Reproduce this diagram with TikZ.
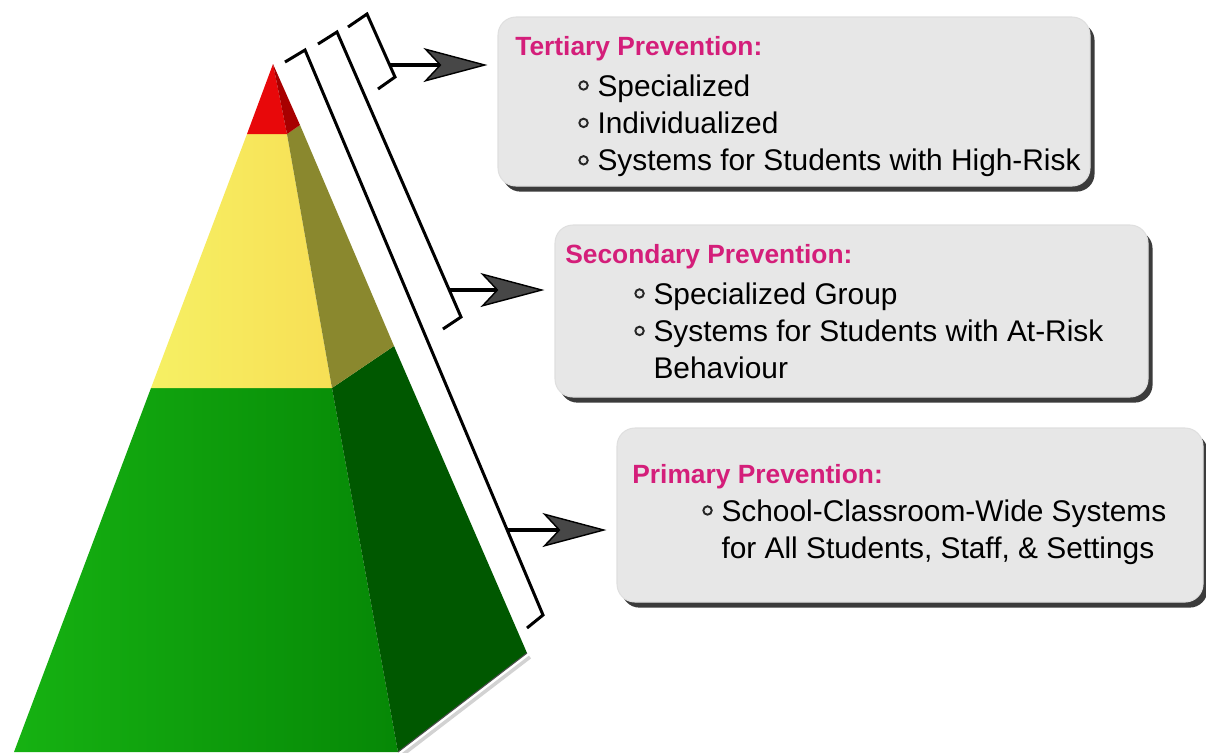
\documentclass[tikz,border=0pt]{standalone}
\usepackage{fontspec}
\setmainfont{Liberation Sans}
\usetikzlibrary{arrows.meta,shadows,fit}

\definecolor{titlepink}{RGB}{212,30,122}
\definecolor{boxgray}{RGB}{231,231,231}
\definecolor{topred}{RGB}{232,8,10}
\definecolor{topredside}{RGB}{168,0,0}
\definecolor{midyellow}{RGB}{246,240,100}
\definecolor{midyellowside}{RGB}{138,136,46}
\definecolor{baseleft}{RGB}{22,178,18}
\definecolor{baseright}{RGB}{6,136,6}
\definecolor{baseside}{RGB}{0,88,0}

\newcommand{\bul}{\tikz[baseline=-6pt]\draw[line width=1.1pt, black!85] (0,0) circle (2.4pt);}

\tikzset{
  infobox/.style={rounded corners=0.36cm, fill=boxgray, draw=gray!25, line width=0.6pt, inner sep=0pt,
    drop shadow={shadow xshift=2.6pt, shadow yshift=-3.2pt, fill=black!85, opacity=0.9}},
  boxtitle/.style={anchor=base west, inner sep=0pt, text=titlepink, font=\fontsize{15}{18}\selectfont\bfseries},
  boxlist/.style={anchor=base west, inner sep=0pt, font=\fontsize{17}{21.3}\selectfont},
  brk/.style={line width=1.7pt, line join=miter},
  bigarrow/.style={line width=2.4pt, shorten >=0.2cm,
    -{Stealth[length=1.28cm, width=0.68cm, inset=0.32cm, fill=black!72, line width=0.8pt]}},
}

\begin{document}
\begin{tikzpicture}[x=0.02cm, y=-0.02cm]
	\useasboundingbox (0,0) rectangle (1206,752);

	% pyramid
	\begin{scope}
	\clip (0,0) rectangle (1206,752);
	\shade[left color=baseleft, right color=baseright] (151,388) -- (332,388) -- (398,752) -- (14,752) -- cycle;
	\fill[baseside] (332,388) -- (394,346) -- (527,653) -- (398,752) -- cycle;
	\draw[gray!35, line width=2pt] (530,657) -- (401,756);
	\draw[black!70, line width=0.6pt] (527,653) -- (398,752);
	\shade[left color=midyellow, right color=midyellow!85!orange] (247,134) -- (287,134) -- (332,388) -- (151,388) -- cycle;
	\fill[midyellowside] (287,134) -- (300,125) -- (394,346) -- (332,388) -- cycle;
	\fill[topred] (273,64) -- (287,134) -- (247,134) -- cycle;
	\fill[topredside] (273,64) -- (300,125) -- (287,134) -- cycle;
	\end{scope}

	% brackets
	\draw[brk] (348,27) -- (367,14) -- (395,77) -- (378,89);
	\draw[brk] (318,44) -- (337,32) -- (461,317) -- (443,329);
	\draw[brk] (285,62) -- (305,50) -- (543,615) -- (527,628);
	\coordinate (tertbrk) at (390,65);
	\coordinate (secbrk) at (449,290);
	\coordinate (primbrk) at (507,530);

	% boxes
	\node[infobox, fit={(498,17) (1090,186)}] (tertbox) {};
	\node[infobox, fit={(555,225) (1148,397)}] (secbox) {};
	\node[infobox, fit={(617,428) (1203,602)}] (primbox) {};

	\node[boxtitle] (terttitle) at (515,55) {Tertiary Prevention:};
	\node[boxlist] (tertlist) at (578,96) {\begin{tabular}[t]{@{}c@{\hspace{5pt}}l@{}}
		\bul & Specialized\\
		\bul & Individualized\\
		\bul & Systems for Students with High-Risk
	\end{tabular}};

	\node[boxtitle] (sectitle) at (565,263) {Secondary Prevention:};
	\node[boxlist] (seclist) at (634,304) {\begin{tabular}[t]{@{}c@{\hspace{5pt}}l@{}}
		\bul & Specialized Group\\
		\bul & Systems for Students with At-Risk\\
		     & Behaviour
	\end{tabular}};

	\node[boxtitle] (primtitle) at (632,483) {Primary Prevention:};
	\node[boxlist] (primlist) at (702,521) {\begin{tabular}[t]{@{}c@{\hspace{5pt}}l@{}}
		\bul & School-Classroom-Wide Systems\\
		     & for All Students, Staff, \& Settings
	\end{tabular}};

	% arrows
	\draw[bigarrow] (tertbrk) -- (tertbrk -| tertbox.west);
	\draw[bigarrow] (secbrk) -- (secbrk -| secbox.west);
	\draw[bigarrow] (primbrk) -- (primbrk -| primbox.west);

\end{tikzpicture}
\end{document}
